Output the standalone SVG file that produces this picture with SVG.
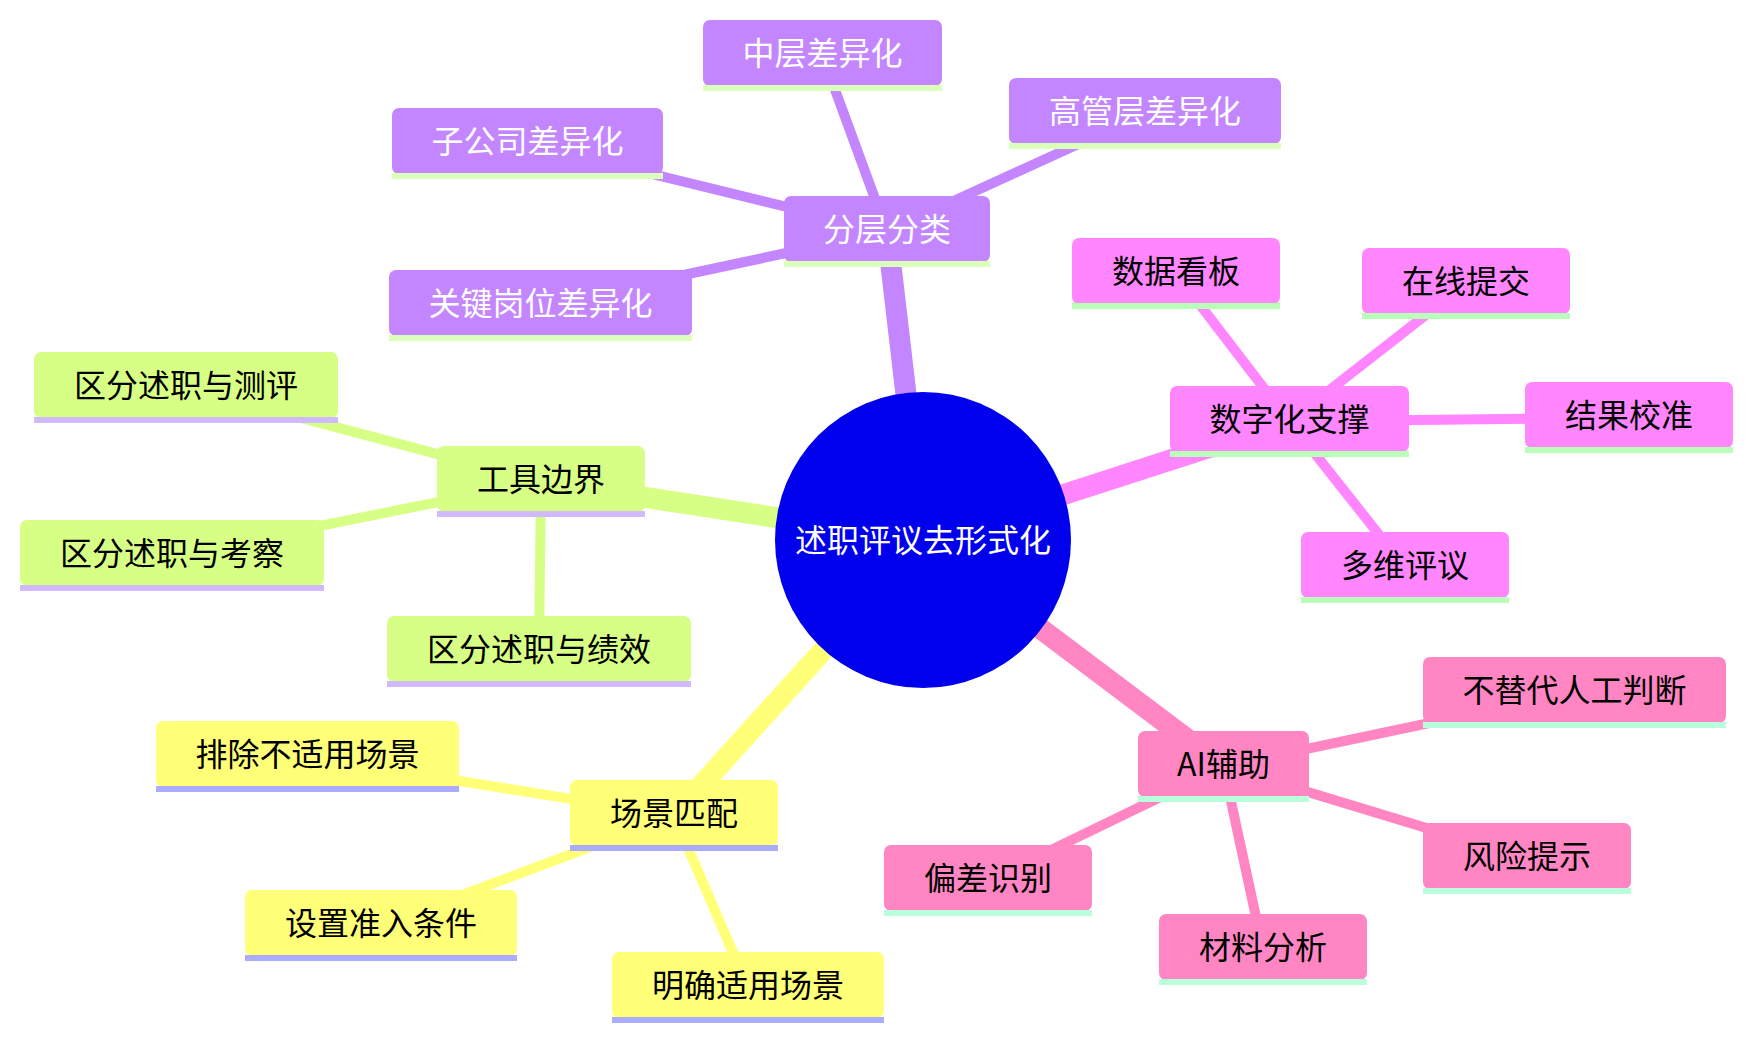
<svg xmlns="http://www.w3.org/2000/svg" width="1752" height="1040" viewBox="0 0 1752 1040">
<style>
text{font-family:"Noto Sans CJK SC","Noto Sans",sans-serif;font-size:32px;text-anchor:middle;dominant-baseline:central;fill:#000}
.w{fill:#fff}
.e{fill:none;stroke-linecap:butt}
.e0{stroke-width:21}
.e1{stroke-width:10}
.cP{stroke:#C386FF}.cG{stroke:#D7FF86}.cM{stroke:#FF86FF}.cY{stroke:#FFFF78}.cK{stroke:#FF86C3}
.fP{fill:#C386FF}.fG{fill:#D7FF86}.fM{fill:#FF86FF}.fY{fill:#FFFF78}.fK{fill:#FF86C3}
.uP{fill:#DCFFB9}.uG{fill:#D0B9FF}.uM{fill:#B9FFB9}.uY{fill:#ABABFF}.uK{fill:#B9FFDC}
</style>
<g id="connectors">
<line class="e e0 cP" x1="923" y1="540" x2="887" y2="231.5"/>
<line class="e e0 cG" x1="923" y1="540" x2="541" y2="481.5"/>
<line class="e e0 cM" x1="923" y1="540" x2="1289.5" y2="421.5"/>
<line class="e e0 cY" x1="923" y1="540" x2="674" y2="815.5"/>
<line class="e e0 cK" x1="923" y1="540" x2="1223.5" y2="766.5"/>
<line class="e e1 cP" x1="887" y1="231.5" x2="822.5" y2="55.5"/>
<line class="e e1 cP" x1="887" y1="231.5" x2="1145" y2="113.5"/>
<line class="e e1 cP" x1="887" y1="231.5" x2="527.5" y2="143.5"/>
<line class="e e1 cP" x1="887" y1="231.5" x2="540.5" y2="305.5"/>
<line class="e e1 cG" x1="541" y1="481.5" x2="186" y2="387.5"/>
<line class="e e1 cG" x1="541" y1="481.5" x2="172" y2="555.5"/>
<line class="e e1 cG" x1="541" y1="481.5" x2="539" y2="651.5"/>
<line class="e e1 cM" x1="1289.5" y1="421.5" x2="1176" y2="273.5"/>
<line class="e e1 cM" x1="1289.5" y1="421.5" x2="1466" y2="283.5"/>
<line class="e e1 cM" x1="1289.5" y1="421.5" x2="1629" y2="417.5"/>
<line class="e e1 cM" x1="1289.5" y1="421.5" x2="1405" y2="567.5"/>
<line class="e e1 cY" x1="674" y1="815.5" x2="307.5" y2="756.5"/>
<line class="e e1 cY" x1="674" y1="815.5" x2="381" y2="925.5"/>
<line class="e e1 cY" x1="674" y1="815.5" x2="748" y2="987.5"/>
<line class="e e1 cK" x1="1223.5" y1="766.5" x2="1574.5" y2="692.5"/>
<line class="e e1 cK" x1="1223.5" y1="766.5" x2="1527" y2="858.5"/>
<line class="e e1 cK" x1="1223.5" y1="766.5" x2="988" y2="880.5"/>
<line class="e e1 cK" x1="1223.5" y1="766.5" x2="1263" y2="949.5"/>
</g>
<g id="root">
<circle cx="923" cy="540" r="148" fill="#0000EC"/>
<text class="w" x="923" y="538">述职评议去形式化</text>
</g>
<g id="n-fencengfenlei"><rect class="fP" x="784" y="196" width="206" height="66" rx="7"/><rect class="uP" x="784" y="261" width="206" height="6"/><text class="w" x="887" y="226.5">分层分类</text></g>
<g id="n-zhongceng"><rect class="fP" x="703" y="20" width="239" height="66" rx="7"/><rect class="uP" x="703" y="85" width="239" height="6"/><text class="w" x="822.5" y="50.5">中层差异化</text></g>
<g id="n-gaoguan"><rect class="fP" x="1009" y="78" width="272" height="66" rx="7"/><rect class="uP" x="1009" y="143" width="272" height="6"/><text class="w" x="1145" y="108.5">高管层差异化</text></g>
<g id="n-zigongsi"><rect class="fP" x="392" y="108" width="271" height="66" rx="7"/><rect class="uP" x="392" y="173" width="271" height="6"/><text class="w" x="527.5" y="138.5">子公司差异化</text></g>
<g id="n-guanjian"><rect class="fP" x="389" y="270" width="303" height="66" rx="7"/><rect class="uP" x="389" y="335" width="303" height="6"/><text class="w" x="540.5" y="300.5">关键岗位差异化</text></g>

<g id="n-gongju"><rect class="fG" x="437" y="446" width="208" height="66" rx="7"/><rect class="uG" x="437" y="511" width="208" height="6"/><text x="541" y="476.5">工具边界</text></g>
<g id="n-ceping"><rect class="fG" x="34" y="352" width="304" height="66" rx="7"/><rect class="uG" x="34" y="417" width="304" height="6"/><text x="186" y="382.5">区分述职与测评</text></g>
<g id="n-kaocha"><rect class="fG" x="20" y="520" width="304" height="66" rx="7"/><rect class="uG" x="20" y="585" width="304" height="6"/><text x="172" y="550.5">区分述职与考察</text></g>
<g id="n-jixiao"><rect class="fG" x="387" y="616" width="304" height="66" rx="7"/><rect class="uG" x="387" y="681" width="304" height="6"/><text x="539" y="646.5">区分述职与绩效</text></g>

<g id="n-shuzihua"><rect class="fM" x="1170" y="386" width="239" height="66" rx="7"/><rect class="uM" x="1170" y="451" width="239" height="6"/><text x="1289.5" y="416.5">数字化支撑</text></g>
<g id="n-kanban"><rect class="fM" x="1072" y="238" width="208" height="66" rx="7"/><rect class="uM" x="1072" y="303" width="208" height="6"/><text x="1176" y="268.5">数据看板</text></g>
<g id="n-tijiao"><rect class="fM" x="1362" y="248" width="208" height="66" rx="7"/><rect class="uM" x="1362" y="313" width="208" height="6"/><text x="1466" y="278.5">在线提交</text></g>
<g id="n-jiaozhun"><rect class="fM" x="1525" y="382" width="208" height="66" rx="7"/><rect class="uM" x="1525" y="447" width="208" height="6"/><text x="1629" y="412.5">结果校准</text></g>
<g id="n-pingyi"><rect class="fM" x="1301" y="532" width="208" height="66" rx="7"/><rect class="uM" x="1301" y="597" width="208" height="6"/><text x="1405" y="562.5">多维评议</text></g>

<g id="n-changjing"><rect class="fY" x="570" y="780" width="208" height="66" rx="7"/><rect class="uY" x="570" y="845" width="208" height="6"/><text x="674" y="810.5">场景匹配</text></g>
<g id="n-paichu"><rect class="fY" x="156" y="721" width="303" height="66" rx="7"/><rect class="uY" x="156" y="786" width="303" height="6"/><text x="307.5" y="751.5">排除不适用场景</text></g>
<g id="n-zhunru"><rect class="fY" x="245" y="890" width="272" height="66" rx="7"/><rect class="uY" x="245" y="955" width="272" height="6"/><text x="381" y="920.5">设置准入条件</text></g>
<g id="n-mingque"><rect class="fY" x="612" y="952" width="272" height="66" rx="7"/><rect class="uY" x="612" y="1017" width="272" height="6"/><text x="748" y="982.5">明确适用场景</text></g>

<g id="n-ai"><rect class="fK" x="1138" y="731" width="171" height="66" rx="7"/><rect class="uK" x="1138" y="796" width="171" height="6"/><text x="1223.5" y="761.5">AI辅助</text></g>
<g id="n-butidai"><rect class="fK" x="1423" y="657" width="303" height="66" rx="7"/><rect class="uK" x="1423" y="722" width="303" height="6"/><text x="1574.5" y="687.5">不替代人工判断</text></g>
<g id="n-fengxian"><rect class="fK" x="1423" y="823" width="208" height="66" rx="7"/><rect class="uK" x="1423" y="888" width="208" height="6"/><text x="1527" y="853.5">风险提示</text></g>
<g id="n-piancha"><rect class="fK" x="884" y="845" width="208" height="66" rx="7"/><rect class="uK" x="884" y="910" width="208" height="6"/><text x="988" y="875.5">偏差识别</text></g>
<g id="n-cailiao"><rect class="fK" x="1159" y="914" width="208" height="66" rx="7"/><rect class="uK" x="1159" y="979" width="208" height="6"/><text x="1263" y="944.5">材料分析</text></g>
</svg>
